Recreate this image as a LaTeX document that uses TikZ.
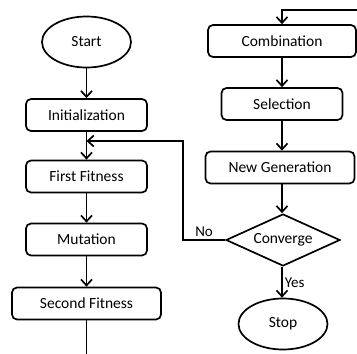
\documentclass[tikz,border=0pt]{standalone}
\usepackage{fontspec}
\setmainfont{Carlito}
\usepackage{tikz}
\usetikzlibrary{shapes.geometric, arrows.meta, positioning}

\begin{document}
\begin{tikzpicture}[
    x=1pt, y=-1pt,
    every node/.style={font=\fontsize{15.5}{18}\selectfont, inner sep=0pt},
    process/.style={draw, rounded corners=5pt, line width=1.7pt, minimum width=121pt, minimum height=32pt},
    terminal/.style={draw, ellipse, line width=1.7pt, minimum width=89pt, minimum height=51pt},
    decision/.style={draw, diamond, aspect=2.2, line width=1.7pt, minimum width=114pt, minimum height=52pt},
    arrow/.style={-{Straight Barb[length=6pt, width=11pt, line width=1.7pt]}, line width=1.7pt},
    line/.style={line width=1.7pt},
    label/.style={font=\fontsize{15}{17}\selectfont}
]
    \useasboundingbox (0,0) rectangle (357,354);

    % Left column
    \node[terminal] (start) at (86.5,42) {Start};
    \node[process] (init) at (86.5,115) {Initialization};
    \node[process] (fit1) at (86.5,176.5) {First Fitness};
    \node[process] (mut) at (86.5,239.5) {Mutation};
    \node[process, minimum width=149pt] (fit2) at (86.5,303.5) {Second Fitness};

    % Right column
    \node[process, minimum width=148pt] (comb) at (282,41) {Combination};
    \node[process] (sel) at (282,104) {Selection};
    \node[process, minimum width=149pt] (newgen) at (280,167.5) {New Generation};
    \node[decision] (conv) at (283,240) {Converge};
    \node[terminal] (stop) at (283,324) {Stop};

    % Free ends and bends
    \coordinate (inlet) at (357,10);
    \coordinate (outlet) at (86.5,354);
    \coordinate (merge) at (86.5,141);
    \coordinate (bend) at (183,240);

    % Connectors
    \draw[arrow] (start) -- (init);
    \draw[arrow] (init) -- (fit1);
    \draw[arrow] (fit1) -- (mut);
    \draw[arrow] (mut) -- (fit2);
    \draw[line] (fit2) -- (outlet);
    \draw[arrow] (inlet) -| (comb);
    \draw[arrow] (comb) -- (sel);
    \draw[arrow] (sel) -- (newgen.north -| sel);
    \draw[arrow] (newgen.south -| sel) -- (conv.north -| sel);
    \draw[arrow] (conv.south -| sel) -- (stop.north -| sel) node[label, midway, right=2pt] {Yes};
    \draw[arrow] (conv.west) -- (bend) node[label, pos=0.5, above=3pt] {No} |- (merge);
\end{tikzpicture}
\end{document}
